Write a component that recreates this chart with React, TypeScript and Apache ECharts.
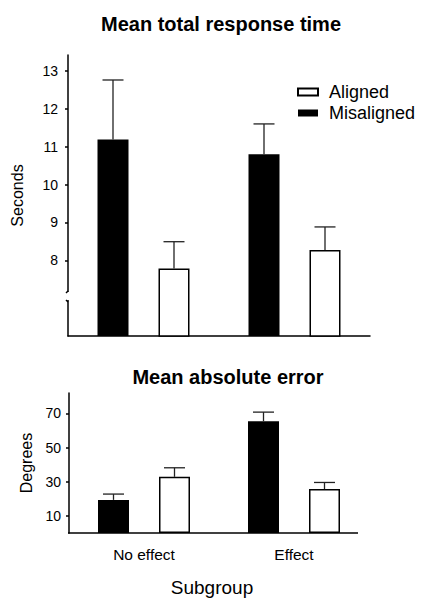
import React, { useEffect, useRef } from "react";
import * as echarts from "echarts";

const categories = ["No effect", "Effect"];
const seriesNames = ["Misaligned", "Aligned"];
// Top panel: mean total response time (seconds)
const timeMisaligned = [11.19, 10.8];
const timeMisalignedErr = [12.76, 11.6];
const timeAligned = [7.78, 8.27];
const timeAlignedErr = [8.49, 8.88];
const timeTicks = [8, 9, 10, 11, 12, 13];
// Bottom panel: mean absolute error (degrees)
const errMisaligned = [19.4, 65.5];
const errMisalignedErr = [22.8, 70.8];
const errAligned = [32.9, 25.7];
const errAlignedErr = [38.2, 29.6];
const errTicks = [10, 30, 50, 70];

const FONT = "'Liberation Sans', Arial, Helvetica, sans-serif";
const BAR_W = 31;
const GAP_PX = 30;
const OFFSET = (BAR_W + GAP_PX) / 2;
const CAP = 21;

function errSeries(name: string, xi: number, yi: number, means: number[], uppers: number[], dir: number) {
  return {
    type: "custom",
    name,
    xAxisIndex: xi,
    yAxisIndex: yi,
    z: 5,
    silent: true,
    renderItem: (params: any, api: any) => {
      const c = api.value(0);
      const p0 = api.coord([c, api.value(1)]);
      const p1 = api.coord([c, api.value(2)]);
      const x = p0[0] + dir * OFFSET;
      const st = { stroke: "#222", lineWidth: 1.3 };
      return {
        type: "group",
        children: [
          { type: "line", shape: { x1: x, y1: p0[1], x2: x, y2: p1[1] }, style: st },
          { type: "line", shape: { x1: x - CAP / 2, y1: p1[1], x2: x + CAP / 2, y2: p1[1] }, style: st },
        ],
      };
    },
    data: means.map((m, i) => [i, m, uppers[i]]),
  };
}

export default function App() {
  const ref = useRef<HTMLDivElement>(null);
  useEffect(() => {
    document.body.style.margin = "0";
    const chart = echarts.init(ref.current!, null, { renderer: "svg" });
    const axisLineStyle = { color: "#000", width: 1.5 };
    const barBlack = { color: "#000" };
    const barWhite = { color: "#fff", borderColor: "#000", borderWidth: 1.5 };
    const gapPct = `${(GAP_PX / BAR_W) * 100}%`;
    chart.setOption({
      animation: false,
      textStyle: { fontFamily: FONT, color: "#000" },
      title: [
        {
          text: "Mean total response time",
          left: 216,
          textAlign: "center",
          top: 9,
          textStyle: { fontFamily: FONT, fontSize: 20, fontWeight: "bold", color: "#000" },
        },
        {
          text: "Mean absolute error",
          left: 223,
          textAlign: "center",
          top: 362,
          textStyle: { fontFamily: FONT, fontSize: 20, fontWeight: "bold", color: "#000" },
        },
      ],
      legend: {
        data: ["Aligned", "Misaligned"],
        orient: "vertical",
        left: 292,
        top: 78,
        itemWidth: 20,
        itemHeight: 7,
        itemGap: 3,
        icon: "rect",
        textStyle: { fontFamily: FONT, fontSize: 18, color: "#000", padding: [0, 0, 0, 6] },
      },
      grid: [
        { left: 68, right: 54, top: 55, height: 281 },
        { left: 69, right: 55, top: 393, height: 140 },
      ],
      xAxis: [
        {
          type: "category",
          gridIndex: 0,
          data: categories,
          axisLine: { lineStyle: axisLineStyle },
          axisTick: { show: false },
          axisLabel: { show: false },
        },
        {
          type: "category",
          gridIndex: 1,
          data: categories,
          axisLine: { show: false },
          axisTick: { show: false },
          axisLabel: { fontFamily: FONT, fontSize: 15.5, color: "#000", margin: 13 },
          name: "Subgroup",
          nameLocation: "middle",
          nameGap: 45,
          nameTextStyle: { fontFamily: FONT, fontSize: 19, color: "#000", padding: [0, 14, 0, 0] },
        },
      ],
      yAxis: [
        {
          type: "value",
          gridIndex: 0,
          min: 6,
          max: 13.42,
          splitLine: { show: false },
          axisLine: { show: true, lineStyle: axisLineStyle },
          axisTick: { show: true, customValues: timeTicks, length: 3, lineStyle: { color: "#000", width: 1.5 } },
          axisLabel: { customValues: timeTicks, fontFamily: FONT, fontSize: 14, color: "#000", margin: 10 },
          name: "Seconds",
          nameLocation: "middle",
          nameRotate: 90,
          nameGap: 43,
          nameTextStyle: { fontFamily: FONT, fontSize: 16, color: "#000" },
        },
        {
          type: "value",
          gridIndex: 1,
          min: 0,
          max: 82,
          splitLine: { show: false },
          axisLine: { show: true, lineStyle: axisLineStyle },
          axisTick: { show: true, customValues: errTicks, length: 3, lineStyle: { color: "#000", width: 1.5 } },
          axisLabel: { customValues: errTicks, fontFamily: FONT, fontSize: 14, color: "#000", margin: 8 },
          name: "Degrees",
          nameLocation: "middle",
          nameRotate: 90,
          nameGap: 35,
          nameTextStyle: { fontFamily: FONT, fontSize: 16, color: "#000" },
        },
      ],
      series: [
        { type: "bar", name: seriesNames[0], xAxisIndex: 0, yAxisIndex: 0, data: timeMisaligned, barWidth: BAR_W, barGap: gapPct, itemStyle: barBlack },
        { type: "bar", name: seriesNames[1], xAxisIndex: 0, yAxisIndex: 0, data: timeAligned, barWidth: BAR_W, barGap: gapPct, itemStyle: barWhite },
        { type: "bar", name: seriesNames[0], xAxisIndex: 1, yAxisIndex: 1, data: errMisaligned, barWidth: BAR_W, barGap: gapPct, itemStyle: barBlack },
        { type: "bar", name: seriesNames[1], xAxisIndex: 1, yAxisIndex: 1, data: errAligned, barWidth: BAR_W, barGap: gapPct, itemStyle: barWhite },
        errSeries("e1", 0, 0, timeMisaligned, timeMisalignedErr, -1),
        errSeries("e2", 0, 0, timeAligned, timeAlignedErr, 1),
        errSeries("e3", 1, 1, errMisaligned, errMisalignedErr, -1),
        errSeries("e4", 1, 1, errAligned, errAlignedErr, 1),
      ],
      graphic: [
        // axis break on top y-axis
        { type: "rect", shape: { x: 63, y: 292, width: 9, height: 8 }, style: { fill: "#fff" }, z: 100 },
        { type: "line", shape: { x1: 68, y1: 291, x2: 66, y2: 293 }, style: { stroke: "#000", lineWidth: 1.5 }, z: 101 },
        { type: "line", shape: { x1: 68, y1: 302, x2: 66, y2: 300 }, style: { stroke: "#000", lineWidth: 1.5 }, z: 101 },
        // bottom x-axis line
        { type: "line", shape: { x1: 68, y1: 533, x2: 358, y2: 533 }, style: { stroke: "#000", lineWidth: 1.5 }, z: 50 },
      ],
    });
    return () => chart.dispose();
  }, []);
  return <div ref={ref} style={{ width: 424, height: 598 }} />;
}
